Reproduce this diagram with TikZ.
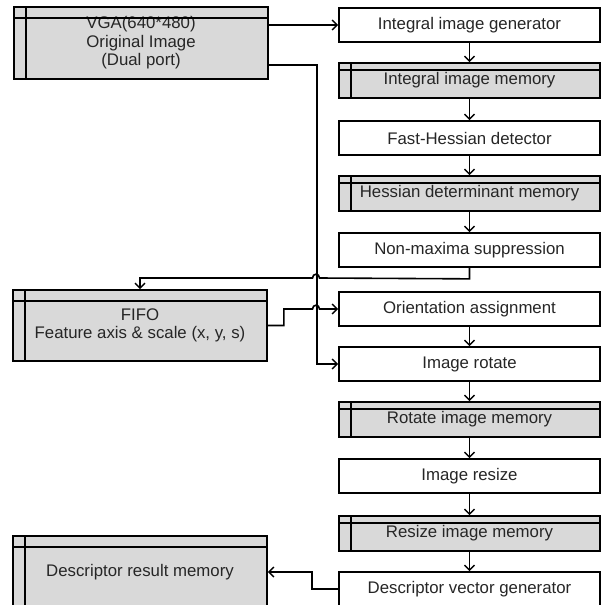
\documentclass[tikz,border=0pt]{standalone}
\usepackage{fontspec}
\setmainfont{Liberation Sans}
\usetikzlibrary{arrows.meta}
\begin{document}
\begin{tikzpicture}[x=1pt,y=-1pt,
  every node/.style={font=\fontsize{16.8}{18.5}\selectfont, text=black!85},
  proc/.style={draw=black, line width=1.7pt, fill=white, minimum width=261pt, minimum height=34pt, inner sep=0pt},
  memr/.style={proc, fill=gray!30, minimum height=35pt},
  meml/.style={draw=black, line width=1.7pt, fill=gray!30, minimum width=254pt, inner sep=0pt, align=center},
  arr/.style={line width=1.6pt, -{Straight Barb[length=5pt,width=10pt,line width=1.4pt]}},
  ln/.style={line width=1.7pt}]
\clip (0,0) rectangle (604,605);
\fill[white] (0,0) rectangle (604,605);
% right column
\node[proc] (iig) at (469.5,25) {Integral image generator};
\node[memr] (iim) at (469.5,80.5) {Integral image memory};
\node[proc] (fh)  at (469.5,138) {Fast-Hessian detector};
\node[memr] (hdm) at (469.5,193.5) {Hessian determinant memory};
\node[proc] (nms) at (469.5,250) {Non-maxima suppression};
\node[proc] (oa)  at (469.5,309) {Orientation assignment};
\node[proc] (ir)  at (469.5,364) {Image rotate};
\node[memr] (rim) at (469.5,419.5) {Rotate image memory};
\node[proc] (irs) at (469.5,476) {Image resize};
\node[memr] (rsm) at (469.5,533.5) {Resize image memory};
\node[proc] (dvg) at (469.5,589) {Descriptor vector generator};
% left column
\node[meml, minimum height=72pt] (vga) at (141,43) {VGA(640*480)\\Original Image\\(Dual port)};
\node[meml, minimum height=71pt] (fifo) at (140,325.5) {FIFO\\Feature axis \& scale (x, y, s)};
\node[meml, minimum height=72pt] (drm) at (140,572) {Descriptor result memory};
% inner lines of memory boxes
\foreach \n in {vga,fifo,drm}{
  \draw[ln] ([yshift=-11.5pt]\n.north west) -- ([yshift=-11.5pt]\n.north east);
  \draw[ln] ([xshift=13pt]\n.north west) -- ([xshift=13pt]\n.south west);
}
\foreach \n in {iim,hdm,rim,rsm}{
  \draw[ln] ([yshift=-7.5pt]\n.north west) -- ([yshift=-7.5pt]\n.north east);
  \draw[ln] ([xshift=12.5pt]\n.north west) -- ([xshift=12.5pt]\n.south west);
}
% vertical chain
\foreach \a/\b in {iig/iim,iim/fh,fh/hdm,hdm/nms,oa/ir,ir/rim,rim/irs,irs/rsm,rsm/dvg}
  \draw[arr] (\a.south) -- (\b.north);
% VGA connections
\draw[arr] (iig.west -| vga.east) -- (iig.west);
\draw[arr] ([yshift=-22pt]vga.east) -- ++(48,0) |- (ir.west);
% NMS to FIFO with hop
\draw[arr] (nms.south) -- ++(0,11) -- (319.5,278) .. controls (319.5,273) and (312.5,273) .. (312.5,278) -| (fifo.north);
% FIFO to orientation with hop
\draw[arr] (fifo.east) -- ++(16,0) |- (312.5,309) .. controls (312.5,304) and (319.5,304) .. (319.5,309) -- (oa.west);
% descriptor
\draw[arr] (dvg.west) -- ++(-26,0) |- (drm.east);
\end{tikzpicture}
\end{document}
